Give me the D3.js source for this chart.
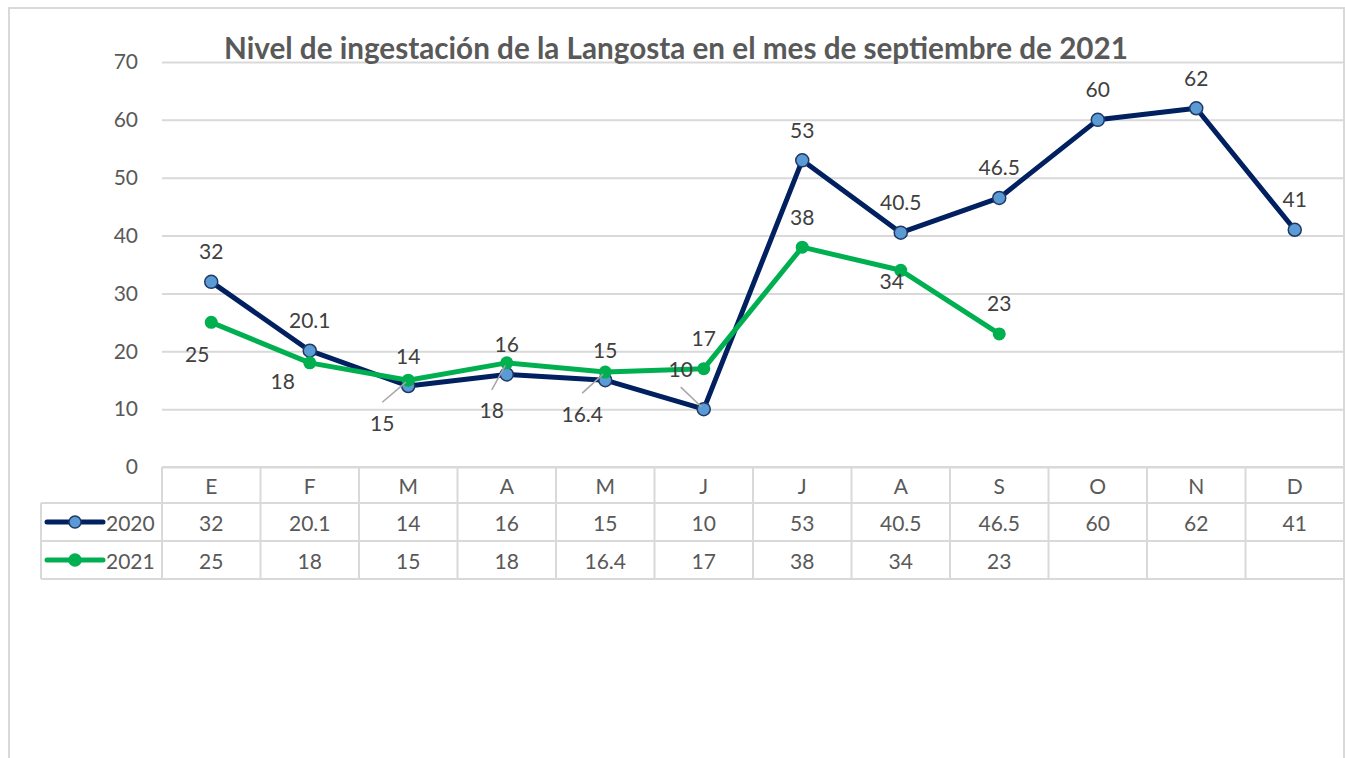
<!DOCTYPE html>
<html><head><meta charset="utf-8">
<script src="https://cdn.jsdelivr.net/npm/d3@7"></script>
<style>
body{margin:0;background:#fff}
svg{display:block}
text{font-family:Lato,"Open Sans",sans-serif}
</style>
</head><body>
<svg id="c" width="1345" height="758"></svg>
<script>
// ---- data ----
const chartTitle = "Nivel de ingestación de la Langosta en el mes de septiembre de 2021";
const months = ["E","F","M","A","M","J","J","A","S","O","N","D"];
const seriesNames = ["2020","2021"];
const values2020 = [32,20.1,14,16,15,10,53,40.5,46.5,60,62,41];
const values2021 = [25,18,15,18,16.4,17,38,34,23,null,null,null];
const yTicks = [0,10,20,30,40,50,60,70];

// ---- label placement (style) ----
const place = {
  t:   {dx:0,   dy:-31, lead:false},
  l:   {dx:-23, dy:-41, lead:true},
  bl:  {dx:-14, dy:31,  lead:false},
  bl2: {dx:-27, dy:18,  lead:false},
  b1:  {dx:-26, dy:42,  lead:true},
  b2:  {dx:-15, dy:47,  lead:true},
  b3:  {dx:-23, dy:41,  lead:true},
  in:  {dx:-9,  dy:10,  lead:false}
};
const place2020 = ["t","t","t","t","t","l","t","t","t","t","t","t"];
const place2021 = ["bl","bl2","b1","b2","b3","t","t","in","t"];

const svg = d3.select("#c");
const pLeft = 162, pRight = 1344, pTop = 62, pBottom = 467;
const gridC = "#d9d9d9", axisTxt = "#595959", lblTxt = "#404040";
const navy = "#002060", lightBlue = "#5B9BD5", green = "#00B050";

const x = d3.scaleBand().domain(d3.range(months.length)).range([pLeft, pRight]).padding(0);
const y = d3.scaleLinear().domain([0, 70]).range([pBottom, pTop]);
const cx = i => x(i) + x.bandwidth() / 2;

// frame
svg.append("rect").attr("x", 9).attr("y", 8).attr("width", 1335).attr("height", 800)
  .attr("fill", "none").attr("stroke", gridC).attr("stroke-width", 2);

// y axis with gridlines
const yAxis = d3.axisLeft(y).tickValues(yTicks).tickSize(-(pRight - pLeft)).tickPadding(24);
const gy = svg.append("g").attr("transform", `translate(${pLeft},0)`).call(yAxis);
gy.select(".domain").remove();
gy.selectAll(".tick line").attr("stroke", gridC).attr("stroke-width", 2);
gy.selectAll(".tick text").attr("fill", axisTxt).style("font-size", "21px").style("font-family", "Lato");

// title
const tt = svg.append("text").text(chartTitle).attr("x", 676).attr("y", 59)
  .attr("text-anchor", "middle").attr("fill", axisTxt).style("font-weight", "bold").style("font-size", "30px");
const len = tt.node().getComputedTextLength();
tt.style("font-size", (30 * 904 / len).toFixed(2) + "px");

// data table
const rowTop = [467, 503, 541, 579];
const tbl = svg.append("g");
tbl.append("line").attr("x1", pLeft).attr("x2", pRight).attr("y1", rowTop[0]).attr("y2", rowTop[0]);
[1, 2, 3].forEach(r => tbl.append("line").attr("x1", 41).attr("x2", pRight).attr("y1", rowTop[r]).attr("y2", rowTop[r]));
d3.range(months.length + 1).forEach(i => {
  const xx = i < months.length ? x(i) : pRight;
  tbl.append("line").attr("x1", xx).attr("x2", xx).attr("y1", rowTop[0]).attr("y2", rowTop[3]);
});
tbl.append("line").attr("x1", 41).attr("x2", 41).attr("y1", rowTop[1]).attr("y2", rowTop[3]);
tbl.selectAll("line").attr("stroke", gridC).attr("stroke-width", 2);

// x axis (category labels in header row)
const xAxis = d3.axisBottom(x).tickSize(0).tickPadding(0).tickFormat(i => months[i]);
const gx = svg.append("g").attr("transform", `translate(0,${(rowTop[0] + rowTop[1]) / 2})`).call(xAxis);
gx.select(".domain").remove();
gx.selectAll(".tick text").attr("dy", null).attr("dominant-baseline", "central")
  .attr("fill", axisTxt).style("font-size", "21px").style("font-family", "Lato");

const allSeries = [values2020, values2021];
allSeries.forEach((vals, r) => {
  const yc = (rowTop[r + 1] + rowTop[r + 2]) / 2;
  tbl.append("g").selectAll("text").data(vals).join("text")
    .attr("x", (d, i) => cx(i)).attr("y", yc).attr("text-anchor", "middle").attr("dominant-baseline", "central")
    .attr("fill", axisTxt).style("font-size", "21px").text(d => d == null ? "" : d);
  const col = r === 0 ? navy : green;
  tbl.append("line").attr("x1", 47).attr("x2", 103).attr("y1", yc).attr("y2", yc)
    .attr("stroke", col).attr("stroke-width", 5).attr("stroke-linecap", "round");
  tbl.append("circle").attr("cx", 75).attr("cy", yc).attr("r", 6)
    .attr("fill", r === 0 ? lightBlue : green).attr("stroke", r === 0 ? "#1f3864" : green).attr("stroke-width", 1.5);
  tbl.append("text").attr("x", 106).attr("y", yc).attr("dominant-baseline", "central")
    .attr("fill", axisTxt).style("font-size", "21px").text(seriesNames[r]);
});

// lines
const line = d3.line().defined(d => d != null).x((d, i) => cx(i)).y(d => y(d));
const gl = svg.append("g");
gl.append("path").datum(values2020).attr("d", line).attr("fill", "none").attr("stroke", navy)
  .attr("stroke-width", 5).attr("stroke-linejoin", "round");
gl.append("path").datum(values2021).attr("d", line).attr("fill", "none").attr("stroke", green)
  .attr("stroke-width", 5).attr("stroke-linejoin", "round");

// markers
gl.append("g").selectAll("circle").data(values2020.map((v, i) => ({v, i})).filter(d => d.v != null)).join("circle")
  .attr("cx", d => cx(d.i)).attr("cy", d => y(d.v)).attr("r", 6.5)
  .attr("fill", lightBlue).attr("stroke", "#1f3864").attr("stroke-width", 1.5);
gl.append("g").selectAll("circle").data(values2021.map((v, i) => ({v, i})).filter(d => d.v != null)).join("circle")
  .attr("cx", d => cx(d.i)).attr("cy", d => y(d.v)).attr("r", 6.5).attr("fill", green);

// data labels
function labels(vals, pl) {
  const g = svg.append("g");
  vals.forEach((v, i) => {
    if (v == null) return;
    const p = place[pl[i]];
    const px = cx(i), py = y(v);
    const lx = px + p.dx, ly = py + p.dy;
    if (p.lead) {
      const sy = ly + (p.dy > 0 ? -20 : 19);
      const ang = Math.atan2(py - sy, px - lx);
      g.append("line").attr("x1", lx).attr("y1", sy)
        .attr("x2", px - Math.cos(ang) * 3).attr("y2", py - Math.sin(ang) * 3)
        .attr("stroke", "#a6a6a6").attr("stroke-width", 1.5);
    }
    g.append("text").attr("x", lx).attr("y", ly).attr("text-anchor", "middle").attr("dominant-baseline", "central")
      .attr("fill", lblTxt).style("font-size", "21px").text(v);
  });
}
labels(values2020, place2020);
labels(values2021, place2021);
</script>
</body></html>
